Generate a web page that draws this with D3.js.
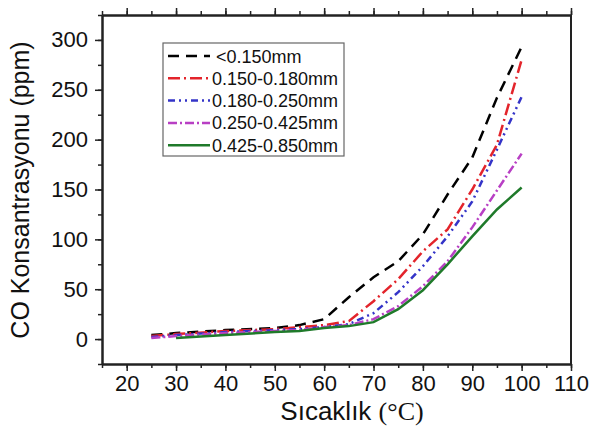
<!DOCTYPE html>
<html>
<head>
<meta charset="utf-8">
<script src="https://cdn.jsdelivr.net/npm/d3@7"></script>
<style>
  body { margin: 0; background: #fff; }
  text { font-family: Arial, "Liberation Sans", sans-serif; }
</style>
</head>
<body>
<div id="chart"></div>
<script>
/* Data */
var temps = [25, 30, 40, 50, 55, 60, 65, 70, 75, 80, 85, 90, 95, 100];
var seriesNames = ["<0.150mm", "0.150-0.180mm", "0.180-0.250mm", "0.250-0.425mm", "0.425-0.850mm"];
var coFine   = [4, 6, 9, 11, 14, 20, 42, 62, 78, 105, 145, 182, 242, 293];
var coSmall  = [3, 5, 8, 10, 12, 14, 18, 38, 60, 88, 110, 150, 195, 280];
var coMid    = [2, 4, 7, 9, 10, 12, 15, 26, 47, 73, 103, 138, 190, 243];
var coLarge  = [1, 3, 6, 8, 9, 12, 14, 20, 33, 53, 78, 112, 149, 186];
var coCoarse = [null, 1, 4, 7, 8, 11, 13, 17, 30, 49, 75, 103, 130, 152];
var xTicks = [20, 30, 40, 50, 60, 70, 80, 90, 100, 110];
var yTicks = [0, 50, 100, 150, 200, 250, 300];

/* Settings */
var width = 599,
    height = 426,
    plotLeft = 102,
    plotRight = 571,
    plotTop = 15,
    plotBottom = 364;

var styles = [
  {color: "#000000", dash: "11,7"},
  {color: "#e3242b", dash: "12,4,2,4"},
  {color: "#3434c8", dash: "7,4,2,4,2,4"},
  {color: "#b83fc4", dash: "9,3,2,3"},
  {color: "#1f7a2a", dash: null}
];
var values = [coFine, coSmall, coMid, coLarge, coCoarse];

var x = d3.scaleLinear().domain([15, 110]).range([plotLeft, plotRight]);
var y = d3.scaleLinear().domain([-25, 325]).range([plotBottom, plotTop]);

var svg = d3.select("#chart").append("svg")
    .attr("width", width)
    .attr("height", height);

/* Axes */
var axisColor = "#222";
function styleAxis(g) {
  g.selectAll("path.domain").attr("stroke", axisColor).attr("stroke-width", 2);
  g.selectAll(".tick line").attr("stroke", axisColor).attr("stroke-width", 1.5);
  g.selectAll("text").attr("fill", "#111").style("font-size", "22px")
    .style("font-family", "Arial, 'Liberation Sans', sans-serif");
}

// minor ticks
var xMinor = d3.range(15, 111, 5);
var yMinor = d3.range(-25, 326, 25);

svg.append("g")
  .attr("transform", "translate(0," + plotBottom + ")")
  .call(d3.axisBottom(x).tickValues(xMinor).tickSize(4).tickFormat("").tickSizeOuter(0))
  .call(styleAxis);
svg.append("g")
  .attr("transform", "translate(0," + plotBottom + ")")
  .call(d3.axisBottom(x).tickValues(xTicks).tickSize(7).tickPadding(4).tickSizeOuter(0))
  .call(styleAxis);

svg.append("g")
  .attr("transform", "translate(0," + plotTop + ")")
  .call(d3.axisTop(x).tickValues(xMinor).tickSize(4).tickFormat("").tickSizeOuter(0))
  .call(styleAxis);
svg.append("g")
  .attr("transform", "translate(0," + plotTop + ")")
  .call(d3.axisTop(x).tickValues(xTicks).tickSize(7).tickFormat("").tickSizeOuter(0))
  .call(styleAxis);

svg.append("g")
  .attr("transform", "translate(" + plotLeft + ",0)")
  .call(d3.axisLeft(y).tickValues(yMinor).tickSize(4).tickFormat("").tickSizeOuter(0))
  .call(styleAxis);
svg.append("g")
  .attr("transform", "translate(" + plotLeft + ",0)")
  .call(d3.axisLeft(y).tickValues(yTicks).tickSize(7).tickPadding(7).tickSizeOuter(0))
  .call(styleAxis);

svg.append("line")
  .attr("x1", plotRight).attr("x2", plotRight)
  .attr("y1", plotTop).attr("y2", plotBottom)
  .attr("stroke", axisColor).attr("stroke-width", 2);

/* Axis titles */
var xTitle = svg.append("text")
  .attr("x", 352).attr("y", 420)
  .attr("text-anchor", "middle")
  .style("font-size", "26px")
  .attr("fill", "#111");
xTitle.append("tspan").text("Sıcaklık ");
xTitle.append("tspan").style("font-family", "'Liberation Serif', 'DejaVu Serif', serif").text("(°C)");

svg.append("text")
  .attr("transform", "translate(29,190) rotate(-90)")
  .attr("text-anchor", "middle")
  .style("font-size", "25px")
  .attr("fill", "#111")
  .text("CO Konsantrasyonu (ppm)");

/* Lines */
var line = d3.line()
  .defined(function(d) { return d[1] != null; })
  .x(function(d) { return x(d[0]); })
  .y(function(d) { return y(d[1]); });

values.forEach(function(vals, i) {
  var pts = temps.map(function(t, j) { return [t, vals[j]]; });
  svg.append("path")
    .datum(pts)
    .attr("fill", "none")
    .attr("stroke", styles[i].color)
    .attr("stroke-width", 2.5)
    .attr("stroke-dasharray", styles[i].dash)
    .attr("d", line);
});

/* Legend */
var legend = svg.append("g");
legend.append("rect")
  .attr("x", 163).attr("y", 43)
  .attr("width", 181).attr("height", 113)
  .attr("fill", "#fff")
  .attr("stroke", "#666")
  .attr("stroke-width", 1.2);

seriesNames.forEach(function(name, i) {
  var yy = 56 + i * 22.3;
  legend.append("line")
    .attr("x1", 168).attr("x2", 210)
    .attr("y1", yy).attr("y2", yy)
    .attr("stroke", styles[i].color)
    .attr("stroke-width", 2.5)
    .attr("stroke-dasharray", styles[i].dash);
  legend.append("text")
    .attr("x", i == 0 ? 216 : 212).attr("y", yy + 6.5)
    .style("font-size", "18px")
    .attr("fill", "#111")
    .text(name);
});
</script>
</body>
</html>
